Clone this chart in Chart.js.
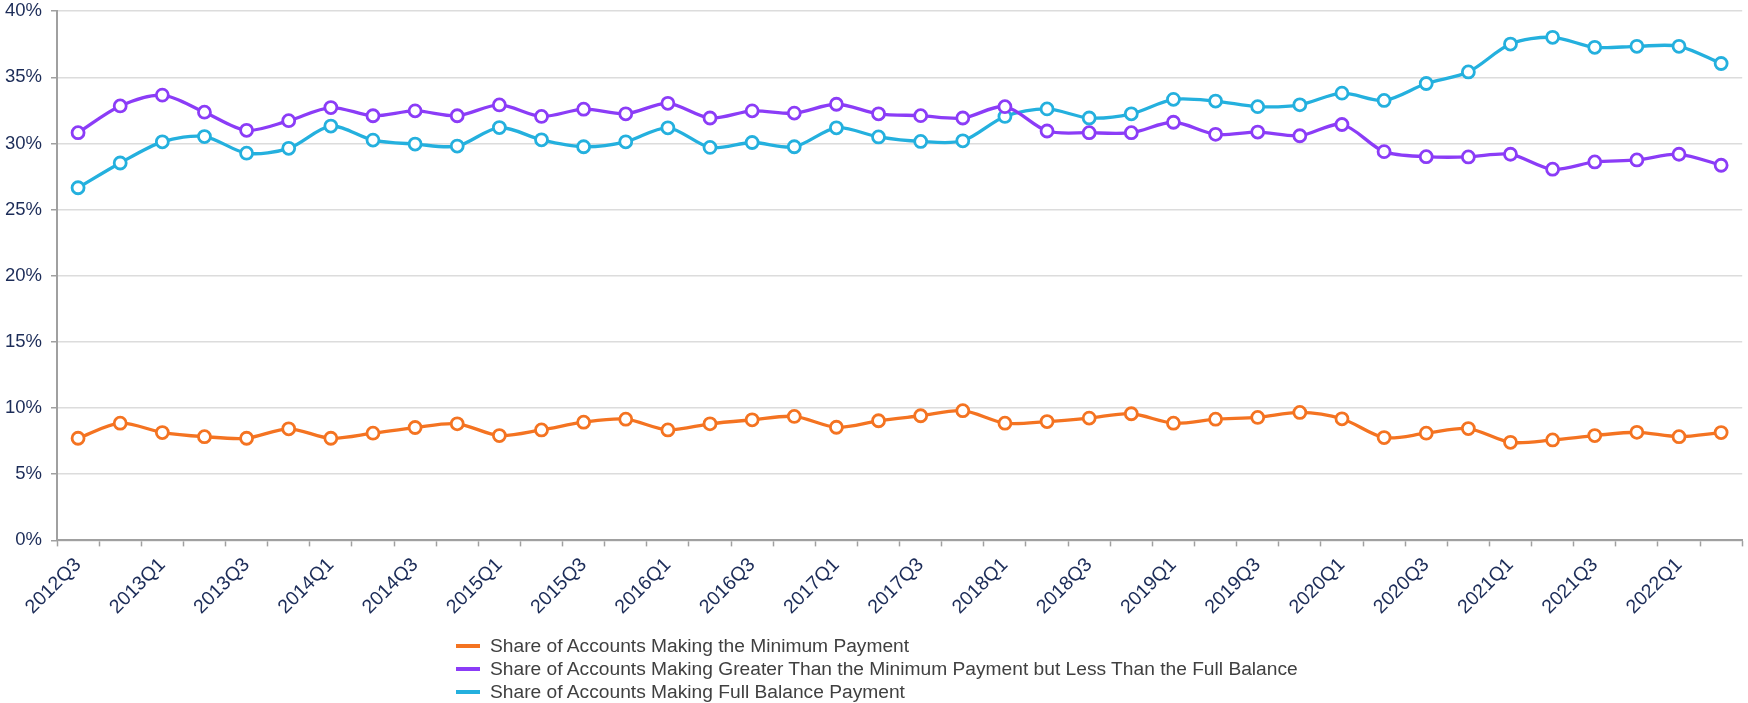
<!DOCTYPE html>
<html>
<head>
<meta charset="utf-8">
<script src="https://cdn.jsdelivr.net/npm/chart.js@4/dist/chart.umd.min.js"></script>
<style>
  html, body { margin: 0; padding: 0; background: #fff; overflow: hidden; }
  #wrap { position: relative; width: 1748px; height: 703px; overflow: hidden; }
  #c { display: block; position: absolute; left: 0; top: -9px; }
  #legend { position: absolute; left: 456px; top: 634px; font-family: "Liberation Sans", Arial, sans-serif; font-size: 19.2px; color: #404040; }
  .row { height: 23px; line-height: 23px; display: flex; align-items: center; white-space: nowrap; }
  .sw { width: 24px; height: 4px; margin-right: 10px; }
</style>
</head>
<body>
<div id="wrap">
  <canvas id="c" width="1751" height="712"></canvas>
  <div id="legend"></div>
</div>
<script>
const categories = [
  "2012Q3","2012Q4","2013Q1","2013Q2","2013Q3","2013Q4","2014Q1","2014Q2","2014Q3","2014Q4",
  "2015Q1","2015Q2","2015Q3","2015Q4","2016Q1","2016Q2","2016Q3","2016Q4","2017Q1","2017Q2",
  "2017Q3","2017Q4","2018Q1","2018Q2","2018Q3","2018Q4","2019Q1","2019Q2","2019Q3","2019Q4",
  "2020Q1","2020Q2","2020Q3","2020Q4","2021Q1","2021Q2","2021Q3","2021Q4","2022Q1","2022Q2"
];
const seriesNames = [
  "Share of Accounts Making the Minimum Payment",
  "Share of Accounts Making Greater Than the Minimum Payment but Less Than the Full Balance",
  "Share of Accounts Making Full Balance Payment"
];
const minimumPayment = [7.72, 8.86, 8.15, 7.84, 7.72, 8.43, 7.72, 8.10, 8.53, 8.81,
  7.92, 8.35, 8.93, 9.16, 8.35, 8.81, 9.11, 9.37, 8.55, 9.04,
  9.42, 9.80, 8.86, 8.98, 9.24, 9.57, 8.86, 9.16, 9.29, 9.67,
  9.19, 7.77, 8.10, 8.45, 7.41, 7.59, 7.92, 8.17, 7.84, 8.15];
const betweenPayment = [30.81, 32.83, 33.65, 32.36, 30.99, 31.72, 32.71, 32.09, 32.46, 32.09,
  32.91, 32.04, 32.59, 32.24, 33.03, 31.92, 32.46, 32.29, 32.96, 32.24,
  32.10, 31.92, 32.78, 30.94, 30.81, 30.81, 31.60, 30.69, 30.86, 30.58,
  31.43, 29.38, 29.00, 28.98, 29.18, 28.05, 28.60, 28.75, 29.18, 28.35];
const fullBalance = [26.65, 28.52, 30.12, 30.52, 29.26, 29.63, 31.31, 30.25, 29.95, 29.80,
  31.20, 30.27, 29.75, 30.12, 31.18, 29.70, 30.07, 29.75, 31.18, 30.49,
  30.15, 30.20, 32.04, 32.61, 31.92, 32.24, 33.33, 33.20, 32.78, 32.92,
  33.80, 33.25, 34.53, 35.40, 37.51, 38.02, 37.26, 37.34, 37.34, 36.04];
const yTicks = [0, 5, 10, 15, 20, 25, 30, 35, 40];

const colors = ["#f47321", "#8b3cf7", "#24b0de"];
const values = [minimumPayment, betweenPayment, fullBalance];
const FONT = "'Liberation Sans', Arial, sans-serif";
const NAVY = "#1c2c58";
const AXIS = "#a0a0a0";

const datasets = values.map((v, i) => ({
  label: seriesNames[i],
  data: v,
  borderColor: colors[i],
  backgroundColor: "#ffffff",
  borderWidth: 3.3,
  pointRadius: 6,
  pointBorderWidth: 2.8,
  pointBackgroundColor: "#ffffff",
  pointBorderColor: colors[i],
  tension: 0.3,
  fill: false
}));

new Chart(document.getElementById("c"), {
  type: "line",
  data: { labels: categories, datasets },
  options: {
    responsive: false,
    animation: false,
    layout: { padding: { left: 4, right: 0, top: 0, bottom: 77 } },
    plugins: { legend: { display: false }, tooltip: { enabled: false } },
    scales: {
      x: {
        offset: true,
        grid: { offset: true, drawOnChartArea: false, drawTicks: true, tickLength: 6, tickColor: AXIS, tickWidth: 1.5 },
        border: { display: true, color: AXIS, width: 2 },
        ticks: {
          autoSkip: false, maxRotation: 45, minRotation: 45, padding: 7,
          color: NAVY, font: { family: FONT, size: 19.5 },
          callback: function (val, idx) { return idx % 2 === 0 ? categories[idx] : ""; }
        }
      },
      y: {
        min: 0, max: 40,
        afterBuildTicks: (axis) => { axis.ticks = yTicks.map(v => ({ value: v })); },
        afterFit: (axis) => { axis.width = 53; },
        grid: { color: "#dcdcdc", lineWidth: 1.5, drawTicks: true, tickLength: 6, tickColor: AXIS },
        border: { display: true, color: AXIS, width: 2 },
        ticks: {
          padding: 9, color: NAVY, font: { family: FONT, size: 18.5 },
          callback: (v) => v + "%"
        }
      }
    }
  }
});

const leg = document.getElementById("legend");
seriesNames.forEach((n, i) => {
  const r = document.createElement("div");
  r.className = "row";
  const s = document.createElement("span");
  s.className = "sw";
  s.style.background = colors[i];
  const t = document.createElement("span");
  t.textContent = n;
  r.appendChild(s); r.appendChild(t);
  leg.appendChild(r);
});
</script>
</body>
</html>
